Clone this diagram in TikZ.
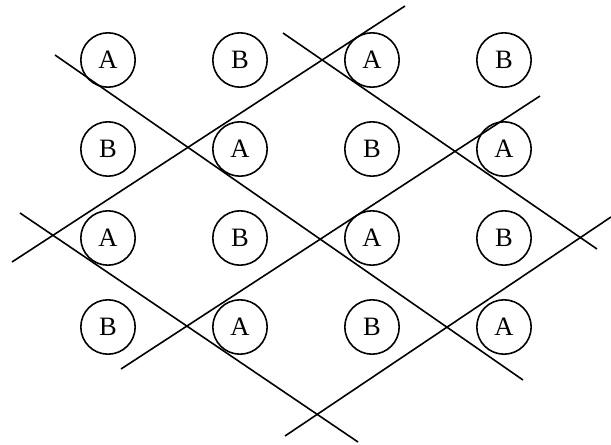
\documentclass[tikz,border=0pt]{standalone}
\usepackage{fontspec}
\setmainfont{Liberation Serif}
\usetikzlibrary{positioning}

\begin{document}
\begin{tikzpicture}[
    x=0.377pt, y=-0.377pt,
    site/.style={draw, circle, minimum size=20.5pt, inner sep=0pt, line width=0.6pt},
    cut/.style={line width=0.6pt}
]
    \useasboundingbox (0,0) rectangle (611,445);

    % sites, A and B alternating
    \foreach \r in {1,...,4} {
        \foreach \c in {1,...,4} {
            \pgfmathtruncatemacro{\sitepar}{mod(\r+\c,2)}
            \node[site] (s\r\c) at ({108+132*(\c-1)},{60+89*(\r-1)})
                {\ifnum\sitepar=0 A\else B\fi};
        }
    }

    % ends of the descending cuts
    \coordinate (dna) at (55,55);   \coordinate (dnb) at (523,380);
    \coordinate (dma) at (283,33);  \coordinate (dmb) at (597,249);
    \coordinate (dla) at (20,213);  \coordinate (dlb) at (358,442);

    % ends of the ascending cuts
    \coordinate (una) at (12,262);  \coordinate (unb) at (405,6);
    \coordinate (uma) at (121,369); \coordinate (umb) at (540,96);
    \coordinate (ula) at (285,436); \coordinate (ulb) at (611,217);

    \draw[cut] (dna) -- (dnb);
    \draw[cut] (dma) -- (dmb);
    \draw[cut] (dla) -- (dlb);

    \draw[cut] (una) -- (unb);
    \draw[cut] (uma) -- (umb);
    \draw[cut] (ula) -- (ulb);
\end{tikzpicture}
\end{document}
